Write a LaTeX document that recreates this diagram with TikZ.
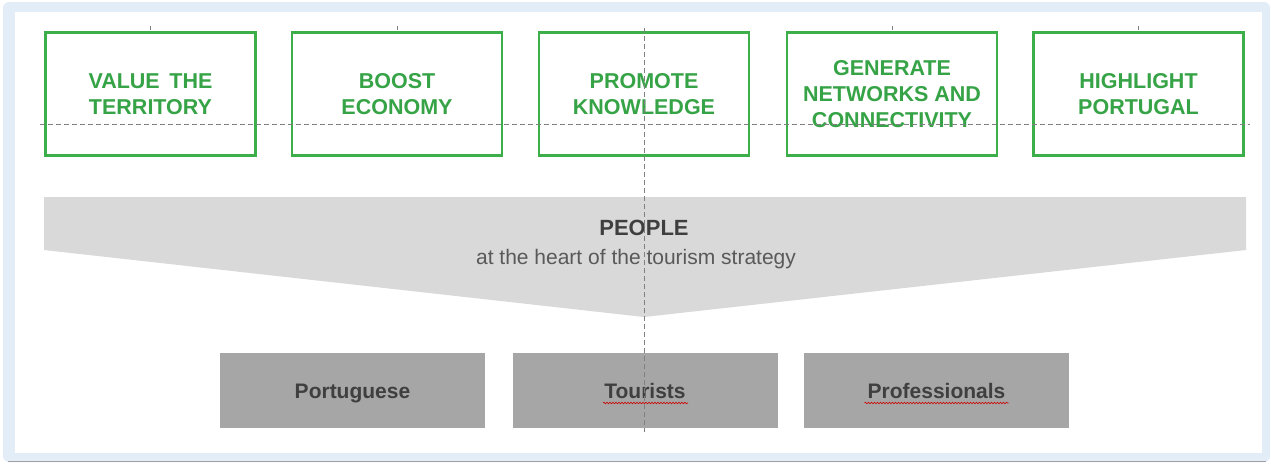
\documentclass[tikz,border=0pt]{standalone}
\usepackage{fontspec}
\setmainfont{Liberation Sans}
\usetikzlibrary{calc,decorations.pathmorphing}
\definecolor{frameblue}{HTML}{E3EDF8}
\definecolor{goalgreen}{HTML}{3DAF4A}
\definecolor{goaltext}{HTML}{35A346}
\definecolor{bandgray}{HTML}{D9D9D9}
\definecolor{groupgray}{HTML}{A6A6A6}
\definecolor{darktext}{HTML}{3F3F3F}
\definecolor{subtext}{HTML}{595959}
\definecolor{guide}{HTML}{808080}

\begin{document}
\begin{tikzpicture}[x=1pt,y=-1pt,
  goal/.style={draw=goalgreen, line width=2.6pt, fill=white,
    minimum width=210pt, minimum height=123pt, inner sep=0pt,
    align=center, text=goaltext,
    font=\fontsize{21.5}{26}\selectfont\bfseries},
  group/.style={fill=groupgray, minimum width=265pt, minimum height=75pt,
    inner sep=0pt, text height=20pt, text depth=4pt,
    text=darktext, font=\fontsize{21}{25}\selectfont\bfseries},
  guideline/.style={draw=guide, line width=0.8pt, dash pattern=on 5pt off 3pt},
  tick/.style={draw=guide, line width=0.8pt},
  spell/.style={draw=red!80!black, line width=0.6pt, decorate,
    decoration={snake, amplitude=0.8pt, segment length=3pt}}
]
\useasboundingbox (0,0) rectangle (1271,463);

% outer frame and white sheet
\fill[frameblue, rounded corners=6pt] (3,2) rectangle (1270,462);
\draw[gray!75, line width=1pt] (8,461.5) -- (1266,461.5);
\fill[white] (15,12) rectangle (1262,453);

% strategic goals
\node[goal] (g1) at (150.5,94) {VALUE\hspace{0.45em}THE\\TERRITORY};
\node[goal] (g2) at (397,94)   {BOOST\\ECONOMY};
\node[goal] (g3) at (644,94)   {PROMOTE\\KNOWLEDGE};
\node[goal] (g4) at (892,94)   {GENERATE\\NETWORKS AND\\CONNECTIVITY};
\node[goal] (g5) at (1138.5,94){HIGHLIGHT\\PORTUGAL};

\foreach \g in {g1,g2,g4,g5}
  \draw[tick] (\g.north) ++(0,-1.3) -- ++(0,-4);

% people band narrowing towards the groups
\fill[bandgray] (44,197) -- (1246,197) -- (1246,250) -- (644,317) -- (44,250) -- cycle;
\node[text=darktext, font=\fontsize{22}{26}\selectfont\bfseries] (people) at (644,228) {PEOPLE};
\node[text=subtext, font=\fontsize{21}{25}\selectfont] (heart) at (636,259) {at the heart of the tourism strategy};

% target groups
\node[group] (portuguese)    at (352.5,390) {Portuguese};
\node[group] (tourists)      at (645,390)   {Tourists};
\node[group] (professionals) at (936.5,390) {Professionals};

\draw[spell] ($(tourists.center)+(-42,13)$) -- ($(tourists.center)+(43,13)$);
\draw[spell] ($(professionals.center)+(-72,13)$) -- ($(professionals.center)+(72,13)$);

% guide lines
\coordinate (hl) at (40,124);
\coordinate (hr) at (1250,124);
\coordinate (vt) at (644,28);
\coordinate (vb) at (644,432);
\draw[guideline] (hl) -- (hr);
\draw[guideline] (vt) -- (vb);
\end{tikzpicture}
\end{document}
